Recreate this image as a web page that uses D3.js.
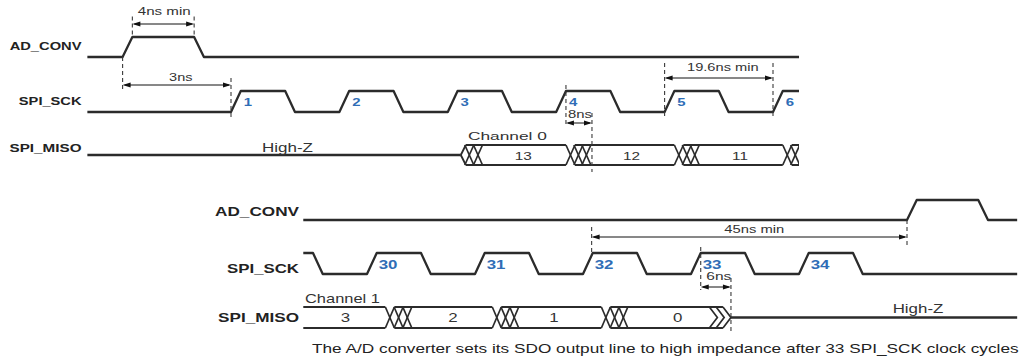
<!DOCTYPE html>
<html><head><meta charset="utf-8">
<script src="https://cdn.jsdelivr.net/npm/d3@7"></script>
<style>body{margin:0;background:#fff}svg{display:block}</style>
</head><body>
<svg id="c" width="1021" height="360"></svg>
<script>
// ---------- DATA (time expressed in SPI_SCK clock cycles) ----------
const topAdconvPulse = [0, 0.66];
const topSckRise = [1, 2, 3, 4, 5, 6];
const topSckFall = [1.5, 2.5, 3.5, 4.5, 5.5];
const topSckLabels = ["1", "2", "3", "4", "5", "6"];
const topMisoChange = [3.12, 4.09, 5.09, 6.09];
const topMisoValues = ["13", "12", "11"];
const botAdconvPulse = [35, 35.66];
const botSckRise = [30, 31, 32, 33, 34];
const botSckFall = [29.5, 30.5, 31.5, 32.5, 33.5, 34.5];
const botSckLabels = ["30", "31", "32", "33", "34"];
const botMisoChange = [30.17, 31.16, 32.17];
const botMisoValues = ["3", "2", "1", "0"];
const botMisoHighZ = 33.17;
const signalNames = ["AD_CONV", "SPI_SCK", "SPI_MISO"];
const timingLabels = ["4ns min", "3ns", "8ns", "19.6ns min", "45ns min", "6ns"];
const timingSpans = [[0.09, 0.66], [0, 1], [4.09, 4.33], [5, 6], [32.08, 35], [33.09, 33.37]];
const caption = "The A/D converter sets its SDO output line to high impedance after 33 SPI_SCK clock cycles";

// ---------- LAYOUT ----------
const svg = d3.select("#c");
const xTop = d3.scaleLinear().domain([0, 6]).range([122.6, 773]);
const xBot = d3.scaleLinear().domain([30, 35]).range([367, 907]);
const topExtent = [-0.325, 6.24], botExtent = [29.41, 36.02];
const TR = 0.09;             // edge transition duration (cycles)
const FONT = "Liberation Sans, Arial, Helvetica, sans-serif";
const INK = "#2b2b2b", BLUE = "#2f6db6";

function txt(s, x, y, o) {
  const t = svg.append("text").text(s)
    .attr("font-family", FONT).attr("font-size", o.size)
    .attr("font-weight", o.bold ? "bold" : "normal")
    .attr("fill", o.fill || "#262626")
    .attr("text-anchor", o.anchor || "start");
  let sx = o.sx || 1;
  if (o.width) { const L = t.node().getComputedTextLength(); if (L > 0) sx = o.width / L; }
  t.attr("transform", `translate(${x},${y}) scale(${sx},1)`);
  return t;
}

function wave(x, hi, lo, ext, startHigh, rises, falls) {
  const edges = rises.map(t => ({t, up: true})).concat(falls.map(t => ({t, up: false})))
    .sort((a, b) => a.t - b.t);
  let cur = startHigh;
  const pts = [[x(ext[0]), cur ? hi : lo]];
  edges.forEach(e => {
    pts.push([x(e.t), cur ? hi : lo]);
    cur = e.up;
    pts.push([x(e.t + TR), cur ? hi : lo]);
  });
  pts.push([x(ext[1]), cur ? hi : lo]);
  svg.append("path").attr("d", d3.line()(pts)).attr("fill", "none")
    .attr("stroke", INK).attr("stroke-width", 2.3).attr("stroke-linejoin", "round");
}

function line(pts, w, color, dash) {
  const p = svg.append("path").attr("d", d3.line()(pts)).attr("fill", "none")
    .attr("stroke", color || INK).attr("stroke-width", w);
  if (dash) p.attr("stroke-dasharray", dash);
  return p;
}

// X group of n crossings, first one starting at a, last one ending at e
function xGroup(g, a, e, n, w, top, bot) {
  const step = n > 1 ? (e - a - w) / (n - 1) : 0;
  for (let i = 0; i < n; i++) {
    const s = a + i * step;
    g.append("path").attr("d", d3.line()([[s, top], [s + w, bot]])).attr("stroke", INK).attr("stroke-width", 1.7).attr("fill", "none");
    g.append("path").attr("d", d3.line()([[s, bot], [s + w, top]])).attr("stroke", INK).attr("stroke-width", 1.7).attr("fill", "none");
  }
}

// ---------- TOP PANEL ----------
const tY = {adHi: 37, adLo: 57, sHi: 91, sLo: 112, mTop: 145, mMid: 155, mBot: 165};
wave(xTop, tY.adHi, tY.adLo, topExtent, false, [topAdconvPulse[0]], [topAdconvPulse[1]]);
wave(xTop, tY.sHi, tY.sLo, topExtent, false, topSckRise, topSckFall);

// top MISO bus
{
  const clip = svg.append("clipPath").attr("id", "clipTop").append("rect")
    .attr("x", 0).attr("y", 0).attr("width", xTop(topExtent[1])).attr("height", 200);
  const g = svg.append("g").attr("clip-path", "url(#clipTop)");
  const W = 9, win = 0.23;
  const s0 = xTop(topMisoChange[0]);
  line([[xTop(topExtent[0]), tY.mMid], [s0, tY.mMid]], 2.6);
  // half opening from High-Z
  g.append("path").attr("d", d3.line()([[s0, tY.mMid], [s0 + 5, tY.mTop]])).attr("stroke", INK).attr("stroke-width", 1.8).attr("fill", "none");
  g.append("path").attr("d", d3.line()([[s0, tY.mMid], [s0 + 5, tY.mBot]])).attr("stroke", INK).attr("stroke-width", 1.8).attr("fill", "none");
  xGroup(g, s0 + 4, xTop(topMisoChange[0] + 0.2), 2, W, tY.mTop, tY.mBot);
  let lineStart = s0 + 5;
  topMisoChange.slice(1).forEach(c => {
    const s = xTop(c), e = xTop(c + win);
    [tY.mTop, tY.mBot].forEach(y => g.append("path").attr("d", d3.line()([[lineStart, y], [s, y]])).attr("stroke", INK).attr("stroke-width", 2).attr("fill", "none"));
    xGroup(g, s, e, 3, W, tY.mTop, tY.mBot);
    lineStart = s + W;
  });
  [tY.mTop, tY.mBot].forEach(y => g.append("path").attr("d", d3.line()([[lineStart, y], [xTop(topExtent[1]), y]])).attr("stroke", INK).attr("stroke-width", 2).attr("fill", "none"));
  topMisoValues.forEach((v, i) => {
    const a = i === 0 ? topMisoChange[0] + 0.2 : topMisoChange[i] + win;
    const b = topMisoChange[i + 1];
    txt(v, (xTop(a) + xTop(b)) / 2 - 1, 159.5, {size: 10.8, anchor: "middle", sx: 1.42, fill: "#333"});
  });
}

// ---------- BOTTOM PANEL ----------
const bY = {adHi: 200, adLo: 220, sHi: 253, sLo: 274, mTop: 307, mMid: 317.5, mBot: 328};
wave(xBot, bY.adHi, bY.adLo, botExtent, false, [botAdconvPulse[0]], [botAdconvPulse[1]]);
wave(xBot, bY.sHi, bY.sLo, botExtent, true, botSckRise, botSckFall);
{
  const g = svg.append("g");
  const W = 9, win = 0.245;
  let lineStart = xBot(botExtent[0]);
  botMisoChange.forEach(c => {
    const s = xBot(c), e = xBot(c + win);
    [bY.mTop, bY.mBot].forEach(y => line([[lineStart, y], [s, y]], 2));
    xGroup(g, s, e, 3, W, bY.mTop, bY.mBot);
    lineStart = s + W;
  });
  // to High-Z: chevrons
  const hz = xBot(botMisoHighZ), hzEnd = xBot(botMisoHighZ + 0.2);
  const cw = 8, cs = (hzEnd - cw - hz) / 2;
  [bY.mTop, bY.mBot].forEach(y => line([[lineStart, y], [hz + 2 * cs, y]], 2));
  for (let i = 0; i < 3; i++) {
    const c = hz + i * cs;
    line([[c, bY.mTop], [c + cw, bY.mMid], [c, bY.mBot]], 1.7);
  }
  line([[hzEnd, bY.mMid], [xBot(botExtent[1]), bY.mMid]], 2.6);
  const bounds = [botExtent[0]].concat(botMisoChange.map(c => c + win));
  const ends = botMisoChange.concat([botMisoHighZ]);
  const labelDx = [1, 1, -6, 9];
  botMisoValues.forEach((v, i) => {
    txt(v, (xBot(bounds[i]) + xBot(ends[i])) / 2 + labelDx[i], 321.7, {size: 12.5, anchor: "middle", sx: 1.35, fill: "#333"});
  });
}

// ---------- clock numbers ----------
topSckRise.forEach((r, i) => txt(topSckLabels[i], xTop(r + TR) + 3, 106, {size: 11.5, bold: true, fill: BLUE, sx: 1.3}));
botSckRise.forEach((r, i) => txt(botSckLabels[i], xBot(r + TR) + 2, 269.3, {size: 13, bold: true, fill: BLUE, sx: 1.3}));

// ---------- signal names ----------
const topNameY = [50, 104.5, 151.5], topNameW = [72, 62.7, 72];
const botNameY = [215.5, 273.2, 322.2], botNameW = [84, 72, 81], botNameS = [12.5, 13, 13];
signalNames.forEach((n, i) => {
  txt(n, 81.5, topNameY[i], {size: 10.5, bold: true, anchor: "end", width: topNameW[i], fill: "#222"});
  txt(n, 299, botNameY[i], {size: botNameS[i], bold: true, anchor: "end", width: botNameW[i], fill: "#222"});
});

// ---------- other texts ----------
txt("High-Z", 287.5, 151.7, {size: 12.5, anchor: "middle", width: 51, fill: "#333"});
txt("High-Z", 918, 313.3, {size: 12.5, anchor: "middle", width: 50.7, fill: "#333"});
txt("Channel 0", 468, 140, {size: 11.5, width: 79, fill: "#333"});
txt("Channel 1", 305, 302.7, {size: 12.5, width: 75, fill: "#333"});
txt(caption, 312, 353.3, {size: 12.5, width: 707, fill: "#222"});

// ---------- timing dimensions ----------
const dimLayout = [
  {x: xTop, ay: 24, dl: [16.5, 37], dr: [16.5, 37], ly: 15, dx: 1, w: 53},
  {x: xTop, ay: 85, dl: [57, 91], dr: [78, 118], ly: 81, dx: 4, w: 23.4},
  {x: xTop, ay: 123, dl: [85, 127], dr: [113, 172], ly: 118, dx: 1, w: 24},
  {x: xTop, ay: 78, dl: [63, 118], dr: [63, 118], ly: 71, dx: 4, w: 71.6},
  {x: xBot, ay: 237, dl: [227, 252], dr: [220, 247], ly: 233, dx: 5, w: 60},
  {x: xBot, ay: 287, dl: [247, 290], dr: [278, 333], ly: 280, dx: 3, w: 25}
];
timingLabels.forEach((lab, i) => {
  const L = dimLayout[i];
  const x1 = L.x(timingSpans[i][0]), x2 = L.x(timingSpans[i][1]);
  line([[x1, L.dl[0]], [x1, L.dl[1]]], 1.1, "#3a3a3a", "4,3");
  line([[x2, L.dr[0]], [x2, L.dr[1]]], 1.1, "#3a3a3a", "4,3");
  line([[x1 + 2, L.ay], [x2 - 2, L.ay]], 1, "#111");
  const ah = Math.min(8, (x2 - x1) / 2 - 1);
  svg.append("path").attr("d", `M${x1},${L.ay}L${x1 + ah},${L.ay - 2.6}L${x1 + ah},${L.ay + 2.6}Z`).attr("fill", "#111");
  svg.append("path").attr("d", `M${x2},${L.ay}L${x2 - ah},${L.ay - 2.6}L${x2 - ah},${L.ay + 2.6}Z`).attr("fill", "#111");
  txt(lab, (x1 + x2) / 2 + L.dx, L.ly, {size: 11.5, anchor: "middle", width: L.w, fill: "#333"});
});
</script>
</body></html>
